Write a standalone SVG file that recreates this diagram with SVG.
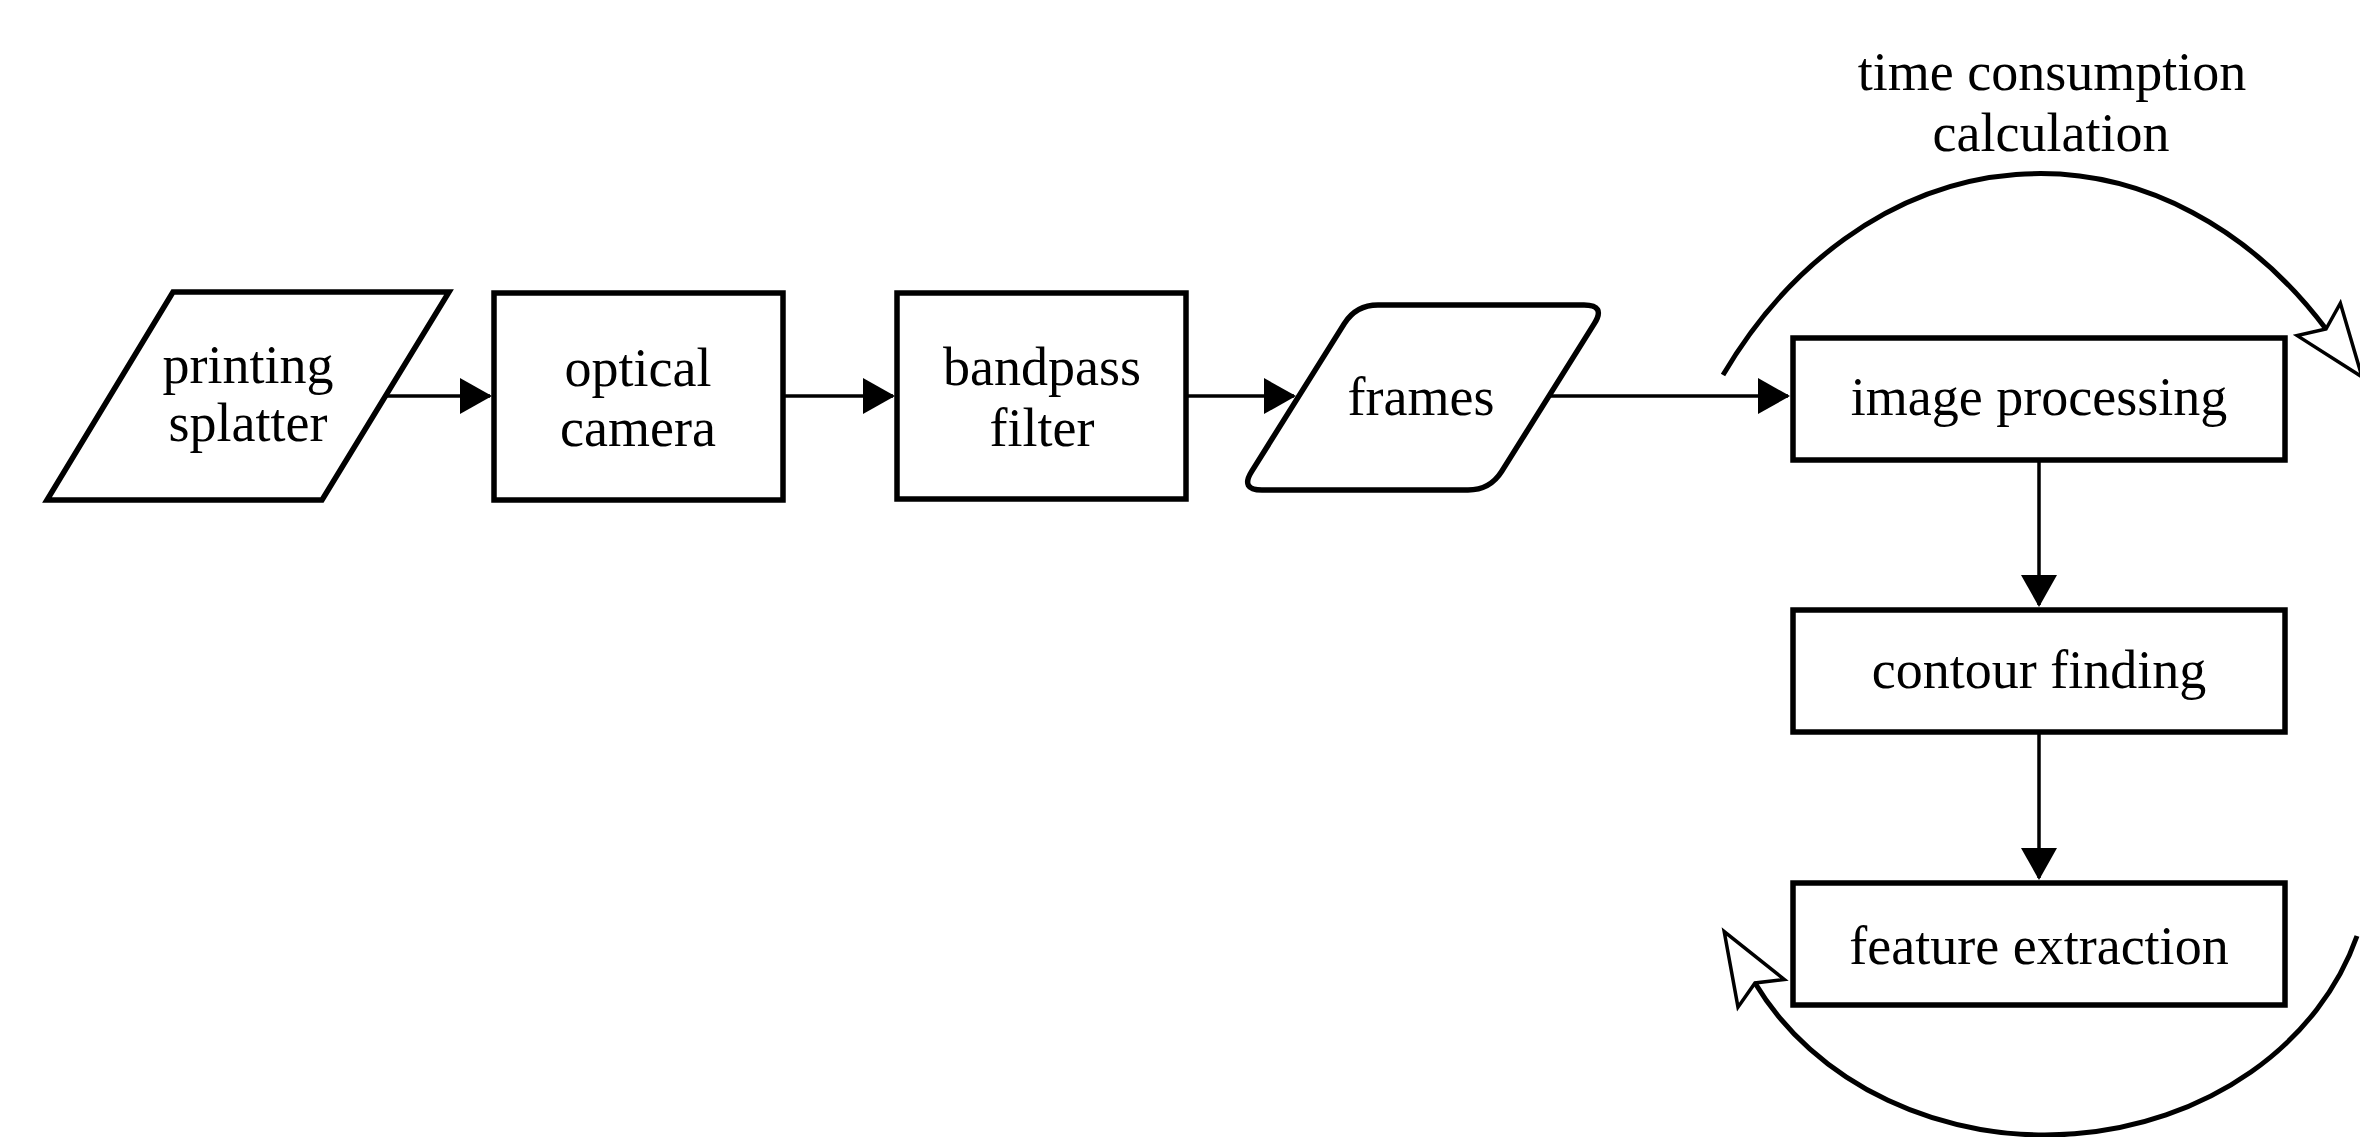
<svg xmlns="http://www.w3.org/2000/svg" width="2360" height="1137" viewBox="0 0 2360 1137">
  <style>
    .node { fill: #fff; stroke: #000; stroke-width: 5.5; stroke-linejoin: miter; }
    .label { font-family: "Liberation Serif", "Times New Roman", serif; font-size: 54px; fill: #000; text-anchor: middle; }
    .conn { fill: none; stroke: #000; stroke-width: 3.5; }
    .arc { fill: none; stroke: #000; stroke-width: 5; }
  </style>
  <defs>
    <marker id="arrow" markerUnits="userSpaceOnUse" markerWidth="32" markerHeight="36" viewBox="0 0 32 36" refX="30" refY="18" orient="auto">
      <path d="M0,0 L32,18 L0,36 Z" fill="#000"/>
    </marker>
    <marker id="open" markerUnits="userSpaceOnUse" markerWidth="80" markerHeight="62" viewBox="-4 -4 80 62" refX="12" refY="27" orient="auto" overflow="visible">
      <path d="M0,0 L72,27 L0,54 L12,27 Z" fill="#fff" stroke="#000" stroke-width="3.5"/>
    </marker>
  </defs>
  <rect width="2360" height="1137" fill="#fff"/>

  <g id="connectors">
    <line class="conn" x1="386" y1="396" x2="490" y2="396" marker-end="url(#arrow)"/>
    <line class="conn" x1="783" y1="396" x2="893" y2="396" marker-end="url(#arrow)"/>
    <line class="conn" x1="1186" y1="396" x2="1294" y2="396" marker-end="url(#arrow)"/>
    <line class="conn" x1="1549" y1="396" x2="1788" y2="396" marker-end="url(#arrow)"/>
    <line class="conn" x1="2039" y1="460" x2="2039" y2="605" marker-end="url(#arrow)"/>
    <line class="conn" x1="2039" y1="732" x2="2039" y2="878" marker-end="url(#arrow)"/>
    <path class="arc" d="M1723,375 A395,500 0 0 1 2326,329" marker-end="url(#open)"/>
    <path class="arc" d="M2357,936 A326,280 0 0 1 1755,983" marker-end="url(#open)"/>
  </g>

  <g id="printing-splatter">
    <polygon class="node" points="173,292 449,292 322,500 47,500"/>
    <text class="label" x="248" y="383">printing</text>
    <text class="label" x="248" y="441">splatter</text>
  </g>
  <g id="optical-camera">
    <rect class="node" x="494" y="293" width="289" height="207"/>
    <text class="label" x="638" y="386">optical</text>
    <text class="label" x="638" y="446">camera</text>
  </g>
  <g id="bandpass-filter">
    <rect class="node" x="897" y="293" width="289" height="206"/>
    <text class="label" x="1042" y="385">bandpass</text>
    <text class="label" x="1042" y="446">filter</text>
  </g>
  <g id="frames">
    <path class="node" d="M1378,305 L1584,305 Q1606,305 1594.3,323.6 L1501.7,471.4 Q1490,490 1468,490 L1262,490 Q1240,490 1251.7,471.4 L1344.3,323.6 Q1356,305 1378,305 Z"/>
    <text class="label" x="1421" y="415">frames</text>
  </g>
  <g id="image-processing">
    <rect class="node" x="1793" y="338" width="492" height="122"/>
    <text class="label" x="2039" y="415">image processing</text>
  </g>
  <g id="contour-finding">
    <rect class="node" x="1793" y="610" width="492" height="122"/>
    <text class="label" x="2039" y="688">contour finding</text>
  </g>
  <g id="feature-extraction">
    <rect class="node" x="1793" y="883" width="492" height="122"/>
    <text class="label" x="2039" y="964">feature extraction</text>
  </g>
  <g id="time-label">
    <text class="label" x="2052" y="90">time consumption</text>
    <text class="label" x="2051" y="151">calculation</text>
  </g>
</svg>
